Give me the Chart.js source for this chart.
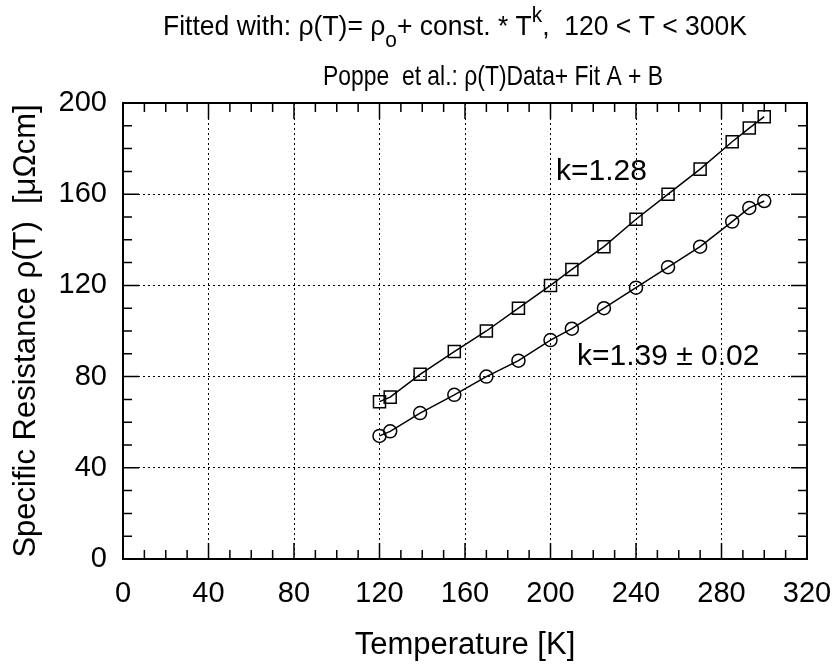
<!DOCTYPE html>
<html>
<head>
<meta charset="utf-8">
<script src="https://cdn.jsdelivr.net/npm/chart.js@4/dist/chart.umd.min.js"></script>
<style>
  html, body { margin: 0; padding: 0; background: #fff; }
  #wrap { width: 835px; height: 664px; }
</style>
</head>
<body>
<div id="wrap"><canvas id="chartRho" width="835" height="664"></canvas></div>
<script>
// --- Dados (Poppe et al.) ---
const tempA = [120, 125, 139, 155, 170, 185, 200, 210, 225, 240, 255, 270, 285, 293, 300];
const rhoA  = [69, 71, 81, 91, 100, 110, 120, 127, 137, 149, 160, 171, 183, 189, 194];
const tempB = [120, 125, 139, 155, 170, 185, 200, 210, 225, 240, 255, 270, 285, 293, 300];
const rhoB  = [54, 56, 64, 72, 80, 87, 96, 101, 110, 119, 128, 137, 148, 154, 157];

const xTicks = [0, 40, 80, 120, 160, 200, 240, 280, 320];
const yTicks = [0, 40, 80, 120, 160, 200];

const labelA = 'k=1.28';
const labelB = 'k=1.39 \u00B1 0.02';
const xTitle = 'Temperature [K]';
const yTitle = 'Specific Resistance \u03C1(T)  [\u03BC\u03A9cm]';

const FONT = '"Liberation Sans", Arial, Helvetica, sans-serif';

// titulo com sub/sobrescrito: [texto, tipo]
const titulo1 = [['Fitted with: \u03C1(T)= \u03C1', 'n'], ['o', 'sub'], ['+ const. * T', 'n'], ['k', 'sup'], [',  120 < T < 300K', 'n']];
const titulo2 = [['Poppe  et al.: \u03C1(T)Data+ Fit A + B', 'n']];

function estilo(tipo){
  if(tipo === 'sub') return { size: 22, dy: 12 };
  if(tipo === 'sup') return { size: 22, dy: -13 };
  return { size: 28, dy: 0 };
}

// desenha a linha comprimida na horizontal para caber na largura do original
function desenhaLinha(ctx, partes, x, y, largura){
  let total = 0;
  partes.forEach(([txt, tipo]) => { ctx.font = `${estilo(tipo).size}px ${FONT}`; total += ctx.measureText(txt).width; });
  ctx.save();
  ctx.translate(x, y);
  ctx.scale(largura / total, 1);
  let cx = 0;
  partes.forEach(([txt, tipo]) => {
    const e = estilo(tipo);
    ctx.font = `${e.size}px ${FONT}`;
    ctx.fillText(txt, cx, e.dy);
    cx += ctx.measureText(txt).width;
  });
  ctx.restore();
}

// moldura, ticks internos, titulos e anotacoes
const molduraPlugin = {
  id: 'moldura',
  afterDraw(chart){
    const { ctx, chartArea: a, scales: { x, y } } = chart;
    ctx.save();
    ctx.strokeStyle = '#000';
    ctx.lineWidth = 1.5;
    ctx.beginPath();
    for(let v = 0; v <= 320; v += 10){
      const px = x.getPixelForValue(v);
      const len = v % 40 === 0 ? 16 : 9;
      ctx.moveTo(px, a.bottom); ctx.lineTo(px, a.bottom - len);
      ctx.moveTo(px, a.top); ctx.lineTo(px, a.top + len);
    }
    for(let v = 0; v <= 200; v += 10){
      const py = y.getPixelForValue(v);
      const len = v % 40 === 0 ? 16 : 9;
      ctx.moveTo(a.left, py); ctx.lineTo(a.left + len, py);
      ctx.moveTo(a.right, py); ctx.lineTo(a.right - len, py);
    }
    ctx.stroke();
    ctx.lineWidth = 2;
    ctx.strokeRect(a.left, a.top, a.right - a.left, a.bottom - a.top);

    ctx.fillStyle = '#000';
    ctx.textBaseline = 'alphabetic';
    ctx.textAlign = 'left';
    desenhaLinha(ctx, titulo1, 163, 35, 584);
    desenhaLinha(ctx, titulo2, 323, 85, 340);

    ctx.font = `30px ${FONT}`;
    ctx.textBaseline = 'middle';
    ctx.fillText(labelA, x.getPixelForValue(202.6), y.getPixelForValue(170));
    ctx.fillText(labelB, x.getPixelForValue(212.4), y.getPixelForValue(88.6));
    ctx.restore();
  }
};

const eixoTicks = { color: '#000', font: { family: FONT, size: 29 } };

new Chart(document.getElementById('chartRho'), {
  type: 'scatter',
  data: {
    datasets: [
      {
        label: 'A',
        data: tempA.map((t, i) => ({ x: t, y: rhoA[i] })),
        showLine: true, borderColor: '#000', borderWidth: 1.5,
        pointStyle: 'rect', pointRadius: 8.5, pointBorderWidth: 1.5,
        pointBackgroundColor: 'rgba(0,0,0,0)', pointBorderColor: '#000'
      },
      {
        label: 'B',
        data: tempB.map((t, i) => ({ x: t, y: rhoB[i] })),
        showLine: true, borderColor: '#000', borderWidth: 1.5,
        pointStyle: 'circle', pointRadius: 6.5, pointBorderWidth: 1.5,
        pointBackgroundColor: 'rgba(0,0,0,0)', pointBorderColor: '#000'
      }
    ]
  },
  options: {
    responsive: false, animation: false,
    layout: { padding: { top: 103, right: 28, left: 0, bottom: 0 } },
    plugins: { legend: { display: false }, tooltip: { enabled: false } },
    scales: {
      x: {
        type: 'linear', min: 0, max: 320,
        afterBuildTicks: s => { s.ticks = xTicks.map(v => ({ value: v })); },
        afterFit: s => { s.height = 105; s.paddingLeft = 0; s.paddingRight = 0; },
        ticks: { ...eixoTicks, padding: 18, maxRotation: 0 },
        grid: { color: '#000', lineWidth: 1, drawTicks: false },
        border: { display: false, dash: [2, 3] },
        title: { display: true, text: xTitle, color: '#000', font: { family: FONT, size: 31 }, padding: { top: 4, bottom: 0 } }
      },
      y: {
        type: 'linear', min: 0, max: 200,
        afterBuildTicks: s => { s.ticks = yTicks.map(v => ({ value: v })); },
        afterFit: s => { s.width = 123; s.paddingTop = 0; s.paddingBottom = 0; },
        ticks: { ...eixoTicks, padding: 16 },
        grid: { color: '#000', lineWidth: 1, drawTicks: false },
        border: { display: false, dash: [2, 3] },
        title: { display: true, text: yTitle, color: '#000', font: { family: FONT, size: 31 }, padding: { top: 8, bottom: 4 } }
      }
    }
  },
  plugins: [molduraPlugin]
});
</script>
</body>
</html>
